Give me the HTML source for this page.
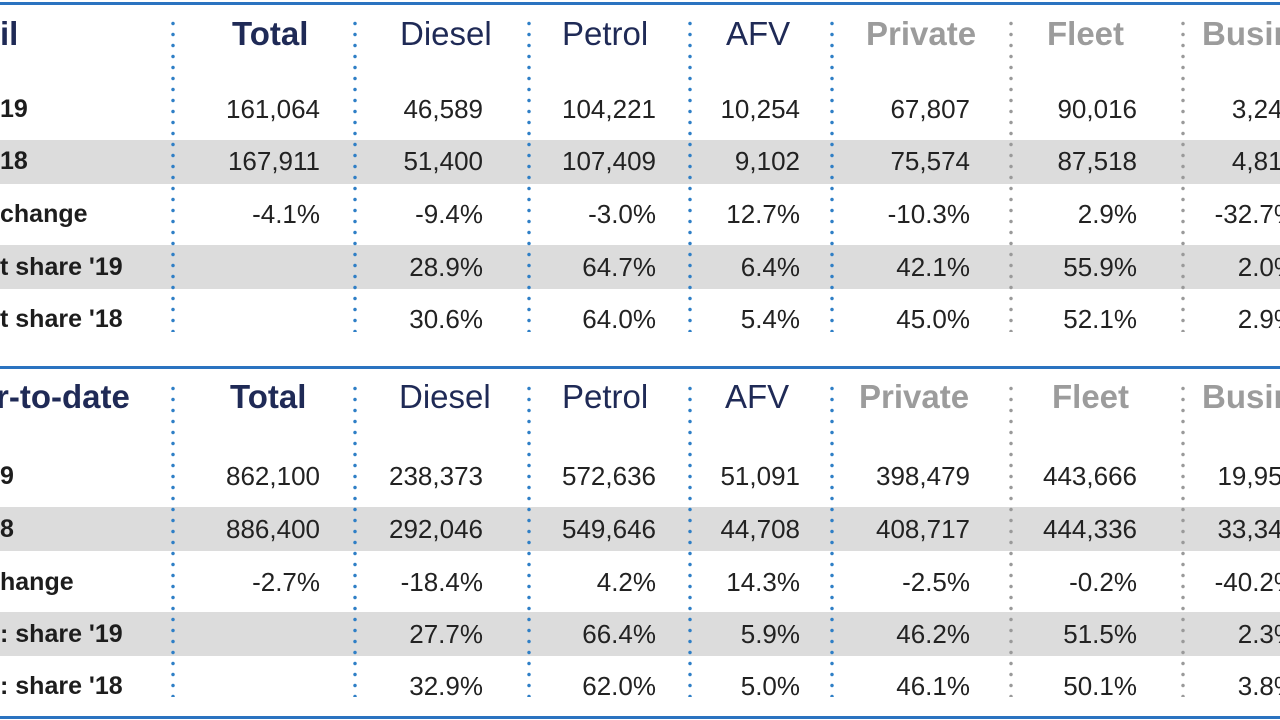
<!DOCTYPE html>
<html style="overflow:hidden"><head><meta charset="utf-8"><style>
html,body{margin:0;width:1280px;height:720px;overflow:hidden;background:#fff;}
#wrap{position:relative;width:1280px;height:720px;overflow:hidden;font-family:"Liberation Sans",sans-serif;}
.hl{position:absolute;left:0;width:1280px;height:3px;background:#2a73c0;}
.band{position:absolute;left:0;width:1280px;height:44px;background:#dcdcdc;}
.dot{position:absolute;width:6px;background-image:radial-gradient(circle,#2f7fc6 1.5px,transparent 2px);background-size:6px 11px;}
.dot.g{background-image:radial-gradient(circle,#9a9a9a 1.5px,transparent 2px);}
.t{position:absolute;font-size:26px;color:#222;line-height:30px;white-space:nowrap;}
.r{text-align:right;}
.lab{left:0;font-weight:bold;color:#1d1d1d;font-size:25px;}
.h{font-size:33px;line-height:38px;color:#1f2a56;}
.hb{font-weight:bold;}
.hg{font-weight:bold;color:#9c9c9c;}
</style></head><body><div id="wrap">
<div class="hl" style="top:2px"></div>
<div class="hl" style="top:366px"></div>
<div class="hl" style="top:716px"></div>
<div class="band" style="top:140px"></div>
<div class="band" style="top:245px"></div>
<div class="band" style="top:507px"></div>
<div class="band" style="top:612px"></div>

<div class="dot" style="left:170px;top:18px;height:314px"></div>
<div class="dot" style="left:352px;top:18px;height:314px"></div>
<div class="dot" style="left:526px;top:18px;height:314px"></div>
<div class="dot" style="left:687px;top:18px;height:314px"></div>
<div class="dot" style="left:829px;top:18px;height:314px"></div>
<div class="dot g" style="left:1008px;top:18px;height:314px"></div>
<div class="dot g" style="left:1180px;top:18px;height:314px"></div>
<div class="dot" style="left:170px;top:383px;height:314px"></div>
<div class="dot" style="left:352px;top:383px;height:314px"></div>
<div class="dot" style="left:526px;top:383px;height:314px"></div>
<div class="dot" style="left:687px;top:383px;height:314px"></div>
<div class="dot" style="left:829px;top:383px;height:314px"></div>
<div class="dot g" style="left:1008px;top:383px;height:314px"></div>
<div class="dot g" style="left:1180px;top:383px;height:314px"></div>

<div class="t h hb lab" style="top:15px;color:#1f2a56;font-size:33px">il</div>
<div class="t h hb" style="top:15px;left:232px">Total</div>
<div class="t h" style="top:15px;left:400px">Diesel</div>
<div class="t h" style="top:15px;left:562px">Petrol</div>
<div class="t h" style="top:15px;left:726px">AFV</div>
<div class="t h hg" style="top:15px;left:866px">Private</div>
<div class="t h hg" style="top:15px;left:1047px">Fleet</div>
<div class="t h hg" style="top:15px;left:1202px">Business</div>
<div class="t h hb lab" style="top:378px;color:#1f2a56;font-size:33px;left:-4px">r-to-date</div>
<div class="t h hb" style="top:378px;left:230px">Total</div>
<div class="t h" style="top:378px;left:399px">Diesel</div>
<div class="t h" style="top:378px;left:562px">Petrol</div>
<div class="t h" style="top:378px;left:725px">AFV</div>
<div class="t h hg" style="top:378px;left:859px">Private</div>
<div class="t h hg" style="top:378px;left:1052px">Fleet</div>
<div class="t h hg" style="top:378px;left:1202px">Business</div>

<div id="rows"></div>
</div>
<script>
const R=[320,483,656,800,970,1137,1297];
const rows=[
[94,"19",["161,064","46,589","104,221","10,254","67,807","90,016","3,243"]],
[146,"18",["167,911","51,400","107,409","9,102","75,574","87,518","4,819"]],
[199,"change",["-4.1%","-9.4%","-3.0%","12.7%","-10.3%","2.9%","-32.7%"]],
[252,"t share '19",["","28.9%","64.7%","6.4%","42.1%","55.9%","2.0%"]],
[304,"t share '18",["","30.6%","64.0%","5.4%","45.0%","52.1%","2.9%"]],
[461,"9",["862,100","238,373","572,636","51,091","398,479","443,666","19,954"]],
[514,"8",["886,400","292,046","549,646","44,708","408,717","444,336","33,340"]],
[567,"hange",["-2.7%","-18.4%","4.2%","14.3%","-2.5%","-0.2%","-40.2%"]],
[619,": share '19",["","27.7%","66.4%","5.9%","46.2%","51.5%","2.3%"]],
[671,": share '18",["","32.9%","62.0%","5.0%","46.1%","50.1%","3.8%"]]];
let h="";
for(const [y,l,v] of rows){
h+=`<div class="t lab" style="top:${y}px">${l}</div>`;
v.forEach((s,i)=>{h+=`<div class="t r" style="top:${y}px;right:${1280-R[i]}px">${s}</div>`;});
}
document.getElementById("rows").innerHTML=h;
</script>
</body></html>
